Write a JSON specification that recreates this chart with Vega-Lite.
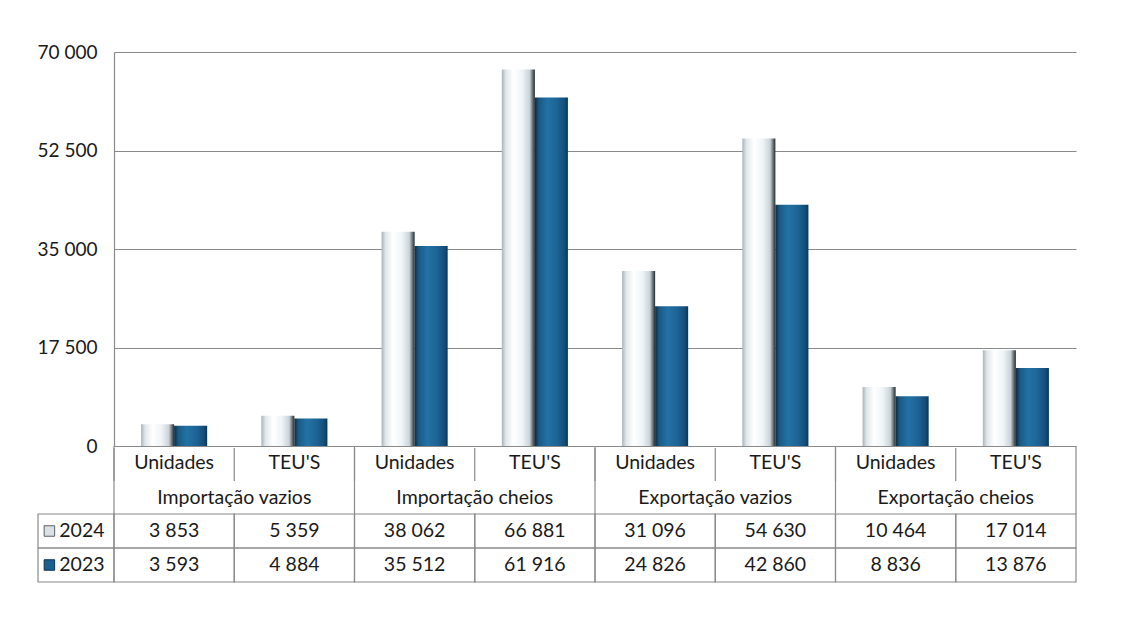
{
  "$schema": "https://vega.github.io/schema/vega-lite/v6.json",
  "autosize": {"type": "none"},
  "padding": {"left": 114, "top": 52, "right": 71, "bottom": 57},
  "width": 962,
  "height": 530,
  "background": "white",
  "config": {
    "locale": {"number": {"decimal": ",", "thousands": " ", "grouping": [3], "currency": ["", " €"]}},
    "font": "Lato",
    "view": {"stroke": null},
    "text": {"font": "Lato", "fontSize": 19.5, "color": "#1a1a1a"}
  },
  "data": {
    "values": [
      {"grupo": "Importação vazios", "medida": "Unidades", "coluna": "Importação vazios|Unidades", "ano": "2024", "valor": 3853},
      {"grupo": "Importação vazios", "medida": "TEU'S", "coluna": "Importação vazios|TEU'S", "ano": "2024", "valor": 5359},
      {"grupo": "Importação cheios", "medida": "Unidades", "coluna": "Importação cheios|Unidades", "ano": "2024", "valor": 38062},
      {"grupo": "Importação cheios", "medida": "TEU'S", "coluna": "Importação cheios|TEU'S", "ano": "2024", "valor": 66881},
      {"grupo": "Exportação vazios", "medida": "Unidades", "coluna": "Exportação vazios|Unidades", "ano": "2024", "valor": 31096},
      {"grupo": "Exportação vazios", "medida": "TEU'S", "coluna": "Exportação vazios|TEU'S", "ano": "2024", "valor": 54630},
      {"grupo": "Exportação cheios", "medida": "Unidades", "coluna": "Exportação cheios|Unidades", "ano": "2024", "valor": 10464},
      {"grupo": "Exportação cheios", "medida": "TEU'S", "coluna": "Exportação cheios|TEU'S", "ano": "2024", "valor": 17014},
      {"grupo": "Importação vazios", "medida": "Unidades", "coluna": "Importação vazios|Unidades", "ano": "2023", "valor": 3593},
      {"grupo": "Importação vazios", "medida": "TEU'S", "coluna": "Importação vazios|TEU'S", "ano": "2023", "valor": 4884},
      {"grupo": "Importação cheios", "medida": "Unidades", "coluna": "Importação cheios|Unidades", "ano": "2023", "valor": 35512},
      {"grupo": "Importação cheios", "medida": "TEU'S", "coluna": "Importação cheios|TEU'S", "ano": "2023", "valor": 61916},
      {"grupo": "Exportação vazios", "medida": "Unidades", "coluna": "Exportação vazios|Unidades", "ano": "2023", "valor": 24826},
      {"grupo": "Exportação vazios", "medida": "TEU'S", "coluna": "Exportação vazios|TEU'S", "ano": "2023", "valor": 42860},
      {"grupo": "Exportação cheios", "medida": "Unidades", "coluna": "Exportação cheios|Unidades", "ano": "2023", "valor": 8836},
      {"grupo": "Exportação cheios", "medida": "TEU'S", "coluna": "Exportação cheios|TEU'S", "ano": "2023", "valor": 13876}
    ]
  },
  "layer": [
    {
      "transform": [{"filter": "datum.ano === '2024'"}],
      "mark": {"type": "bar", "color": {"gradient": "linear", "x1": 0, "y1": 0, "x2": 1, "y2": 0, "stops": [
        {"offset": 0, "color": "#a9b3b8"}, {"offset": 0.12, "color": "#dfe6ea"}, {"offset": 0.35, "color": "#ffffff"},
        {"offset": 0.62, "color": "#eef4f7"}, {"offset": 0.84, "color": "#c9d3d8"}, {"offset": 0.93, "color": "#6d7478"}, {"offset": 1, "color": "#1c2a33"}]}},
      "encoding": {
        "x": {"field": "coluna", "type": "nominal", "sort": null, "axis": null, "scale": {"paddingInner": 0, "paddingOuter": 0}},
        "xOffset": {"field": "ano", "type": "nominal", "scale": {"domain": ["2024", "2023"], "paddingInner": 0, "paddingOuter": 0.82}},
        "y": {"field": "valor", "type": "quantitative", "scale": {"domain": [0, 70000], "range": [394, 0], "nice": false},
          "axis": {"values": [0, 17500, 35000, 52500, 70000], "format": ",.0f", "title": null, "ticks": false,
            "labelFont": "Lato", "labelFontSize": 19, "labelColor": "#1a1a1a", "labelPadding": 17,
            "domainColor": "#8a8a8a", "domainWidth": 1.2, "gridColor": "#8a8a8a", "gridWidth": 1.2, "gridOpacity": 1, "grid": true}}
      }
    },
    {
      "transform": [{"filter": "datum.ano === '2023'"}],
      "mark": {"type": "bar", "color": {"gradient": "linear", "x1": 0, "y1": 0, "x2": 1, "y2": 0, "stops": [
        {"offset": 0, "color": "#0b2a40"}, {"offset": 0.12, "color": "#185a86"}, {"offset": 0.38, "color": "#2372a5"},
        {"offset": 0.68, "color": "#1d6395"}, {"offset": 0.9, "color": "#144e78"}, {"offset": 1, "color": "#0c3656"}]}},
      "encoding": {
        "x": {"field": "coluna", "type": "nominal", "sort": null, "axis": null, "scale": {"paddingInner": 0, "paddingOuter": 0}},
        "xOffset": {"field": "ano", "type": "nominal", "scale": {"domain": ["2024", "2023"], "paddingInner": 0, "paddingOuter": 0.82}},
        "y": {"field": "valor", "type": "quantitative", "scale": {"domain": [0, 70000], "range": [394, 0], "nice": false}, "axis": null}
      }
    },
    {
      "mark": {"type": "rect", "fill": null, "stroke": "#8a8a8a", "strokeWidth": 1.2},
      "encoding": {
        "x": {"field": "coluna", "type": "nominal", "sort": null, "axis": null, "scale": {"type": "band", "paddingInner": 0, "paddingOuter": 0}},
        "y": {"field": "ano", "type": "nominal", "axis": null, "scale": {"type": "band", "domain": ["medida", "grupo", "2024", "2023"], "range": [394, 530], "paddingInner": 0, "paddingOuter": 0}}
      }
    },
    {
      "transform": [{"filter": "datum.ano === '2024'"}],
      "mark": {"type": "rule", "stroke": "#8a8a8a", "strokeWidth": 1.2},
      "encoding": {
        "x": {"field": "coluna", "type": "nominal", "sort": null, "axis": null, "bandPosition": 0, "scale": {"type": "band", "paddingInner": 0, "paddingOuter": 0}},
        "y": {"datum": "r0", "type": "ordinal", "axis": null, "scale": {"type": "point", "domain": ["r0", "r1", "r2"], "range": [396, 462], "padding": 0}},
        "y2": {"datum": "r1"}
      }
    },
    {
      "transform": [{"filter": "datum.ano === '2024' && datum.medida === 'Unidades'"}],
      "mark": {"type": "rule", "stroke": "#8a8a8a", "strokeWidth": 1.2},
      "encoding": {
        "x": {"field": "coluna", "type": "nominal", "sort": null, "axis": null, "bandPosition": 0, "scale": {"type": "band", "domain": ["Importação vazios|Unidades", "Importação vazios|TEU'S", "Importação cheios|Unidades", "Importação cheios|TEU'S", "Exportação vazios|Unidades", "Exportação vazios|TEU'S", "Exportação cheios|Unidades", "Exportação cheios|TEU'S"], "paddingInner": 0, "paddingOuter": 0}},
        "y": {"datum": "r0", "type": "ordinal", "axis": null, "scale": {"type": "point", "domain": ["r0", "r1", "r2"], "range": [394, 462], "padding": 0}},
        "y2": {"datum": "r2"}
      }
    },
    {
      "transform": [{"filter": "datum.ano === '2024' && datum.coluna === \"Exportação cheios|TEU'S\""}],
      "mark": {"type": "rule", "stroke": "#8a8a8a", "strokeWidth": 1.2},
      "encoding": {
        "x": {"field": "coluna", "type": "nominal", "sort": null, "axis": null, "bandPosition": 1, "scale": {"type": "band", "domain": ["Importação vazios|Unidades", "Importação vazios|TEU'S", "Importação cheios|Unidades", "Importação cheios|TEU'S", "Exportação vazios|Unidades", "Exportação vazios|TEU'S", "Exportação cheios|Unidades", "Exportação cheios|TEU'S"], "paddingInner": 0, "paddingOuter": 0}},
        "y": {"datum": "r0", "type": "ordinal", "axis": null, "scale": {"type": "point", "domain": ["r0", "r1", "r2"], "range": [394, 462], "padding": 0}},
        "y2": {"datum": "r2"}
      }
    },
    {
      "transform": [{"filter": "datum.ano === '2024'"}],
      "mark": {"type": "text", "baseline": "middle"},
      "encoding": {
        "x": {"field": "coluna", "type": "nominal", "sort": null, "axis": null, "scale": {"type": "band", "paddingInner": 0, "paddingOuter": 0}},
        "y": {"datum": "medida", "type": "nominal", "axis": null, "scale": {"type": "band", "domain": ["medida", "grupo", "2024", "2023"], "range": [394, 530], "paddingInner": 0, "paddingOuter": 0}},
        "text": {"field": "medida"}
      }
    },
    {
      "transform": [{"filter": "datum.ano === '2024' && datum.medida === 'Unidades'"}],
      "mark": {"type": "text", "baseline": "middle", "dy": 1},
      "encoding": {
        "x": {"field": "coluna", "type": "nominal", "sort": null, "axis": null, "bandPosition": 1, "scale": {"type": "band", "domain": ["Importação vazios|Unidades", "Importação vazios|TEU'S", "Importação cheios|Unidades", "Importação cheios|TEU'S", "Exportação vazios|Unidades", "Exportação vazios|TEU'S", "Exportação cheios|Unidades", "Exportação cheios|TEU'S"], "paddingInner": 0, "paddingOuter": 0}},
        "y": {"datum": "grupo", "type": "nominal", "axis": null, "scale": {"type": "band", "domain": ["medida", "grupo", "2024", "2023"], "range": [394, 530], "paddingInner": 0, "paddingOuter": 0}},
        "text": {"field": "grupo"}
      }
    },
    {
      "mark": {"type": "text", "baseline": "middle"},
      "encoding": {
        "x": {"field": "coluna", "type": "nominal", "sort": null, "axis": null, "scale": {"type": "band", "paddingInner": 0, "paddingOuter": 0}},
        "y": {"field": "ano", "type": "nominal", "axis": null, "scale": {"type": "band", "domain": ["medida", "grupo", "2024", "2023"], "range": [394, 530], "paddingInner": 0, "paddingOuter": 0}},
        "text": {"field": "valor", "type": "quantitative", "format": ",.0f"}
      }
    },
    {
      "transform": [{"filter": "datum.coluna === 'Importação vazios|Unidades'"}],
      "mark": {"type": "rect", "fill": null, "stroke": "#8a8a8a", "strokeWidth": 1.2},
      "encoding": {
        "x": {"datum": "ano", "type": "nominal", "axis": null, "scale": {"type": "band", "domain": ["ano"], "range": [-76, 0], "paddingInner": 0, "paddingOuter": 0}},
        "y": {"field": "ano", "type": "nominal", "axis": null, "scale": {"type": "band", "domain": ["medida", "grupo", "2024", "2023"], "range": [394, 530], "paddingInner": 0, "paddingOuter": 0}}
      }
    },
    {
      "transform": [{"filter": "datum.coluna === 'Importação vazios|Unidades'"}],
      "mark": {"type": "point", "shape": "square", "size": 110, "filled": true, "opacity": 1, "strokeWidth": 1},
      "encoding": {
        "x": {"datum": "ano", "type": "nominal", "axis": null, "bandPosition": 0.15, "scale": {"type": "band", "domain": ["ano"], "range": [-76, 0], "paddingInner": 0, "paddingOuter": 0}},
        "y": {"field": "ano", "type": "nominal", "axis": null, "scale": {"type": "band", "domain": ["medida", "grupo", "2024", "2023"], "range": [394, 530], "paddingInner": 0, "paddingOuter": 0}},
        "color": {"field": "ano", "type": "nominal", "legend": null, "scale": {"domain": ["2024", "2023"], "range": ["#d9e1e5", "#1b5f8e"]}},
        "stroke": {"field": "ano", "type": "nominal", "legend": null, "scale": {"domain": ["2024", "2023"], "range": ["#5a6066", "#0d3350"]}}
      }
    },
    {
      "transform": [{"filter": "datum.coluna === 'Importação vazios|Unidades'"}],
      "mark": {"type": "text", "baseline": "middle", "align": "left"},
      "encoding": {
        "x": {"datum": "ano", "type": "nominal", "axis": null, "bandPosition": 0.28, "scale": {"type": "band", "domain": ["ano"], "range": [-76, 0], "paddingInner": 0, "paddingOuter": 0}},
        "y": {"field": "ano", "type": "nominal", "axis": null, "scale": {"type": "band", "domain": ["medida", "grupo", "2024", "2023"], "range": [394, 530], "paddingInner": 0, "paddingOuter": 0}},
        "text": {"field": "ano"}
      }
    }
  ],
  "resolve": {"scale": {"x": "independent", "y": "independent", "xOffset": "independent", "color": "independent", "stroke": "independent"}}
}
